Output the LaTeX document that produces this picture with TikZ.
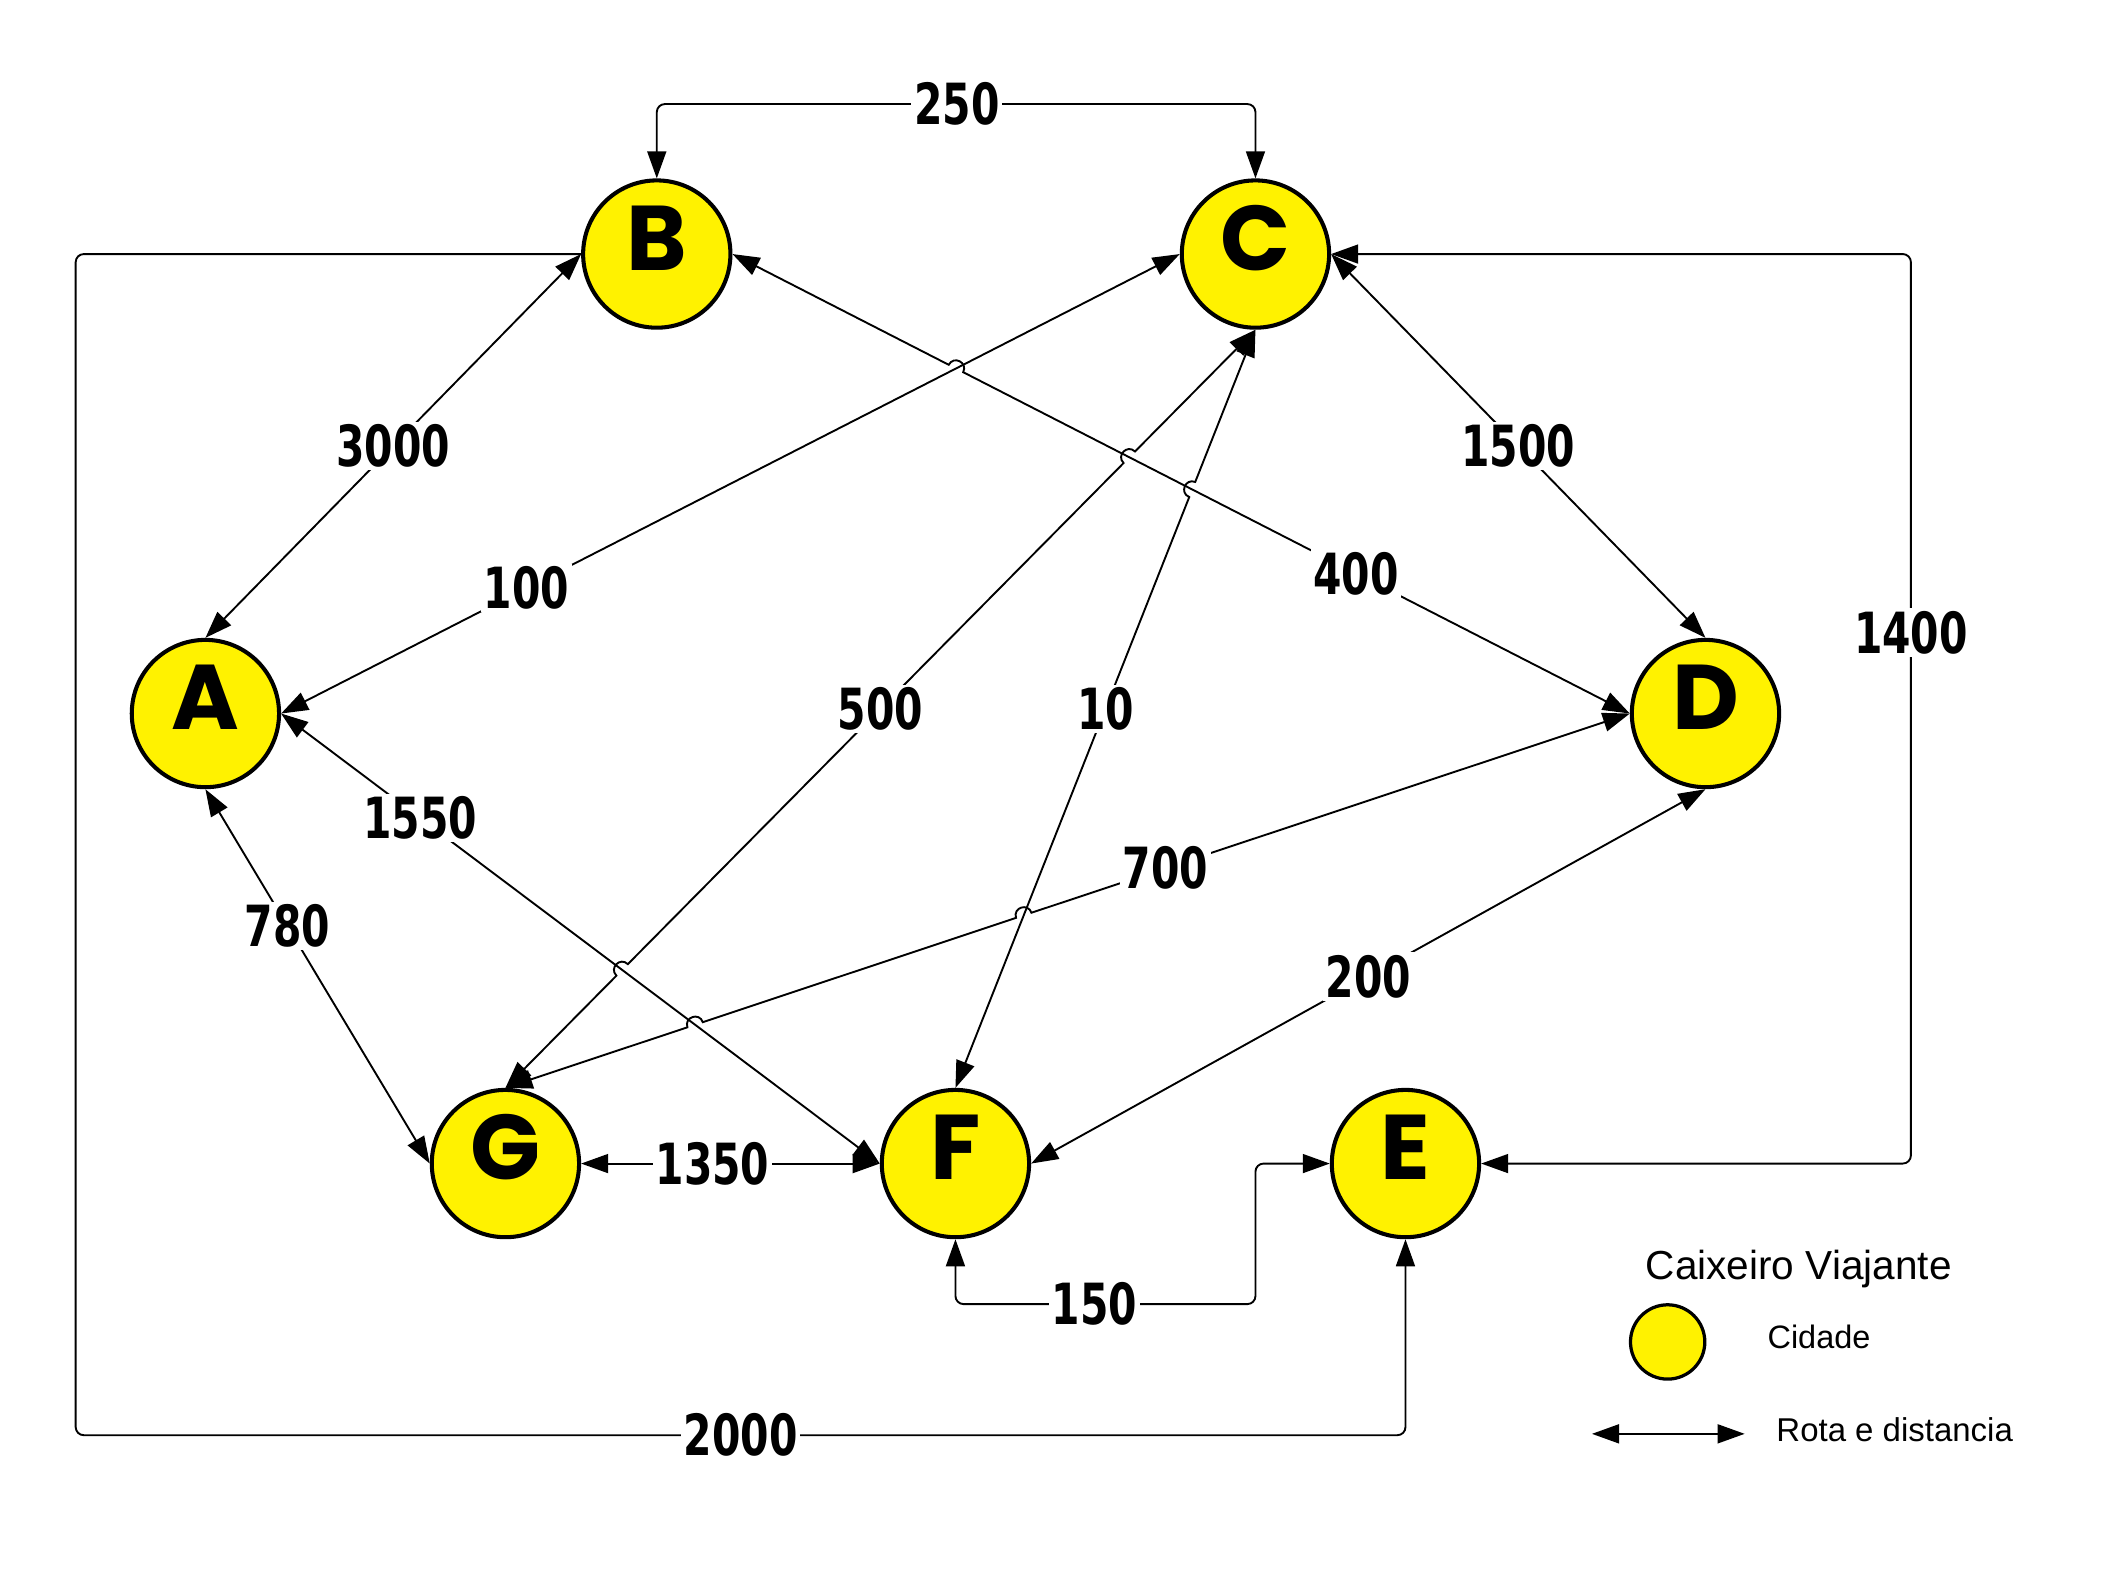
\documentclass[tikz,border=0pt]{standalone}
\usepackage{fontspec}
\setmainfont{Liberation Sans}
\newfontfamily\numfont{DejaVu Sans}[FakeStretch=0.72]
\newfontfamily\letfont{Poppins}
\usetikzlibrary{arrows.meta,calc,intersections}

% hop: #1 name, #2 crossing point, #3 point behind, #4 point ahead
\newcommand\mkhop[4]{%
  \coordinate (#1a) at ($(#2)!3pt!(#3)$);
  \coordinate (#1b) at ($(#2)!3pt!(#4)$);
  \coordinate (#1c) at ($(#1a)!0.667!90:(#1b)$);
  \coordinate (#1d) at ($(#1b)!0.667!-90:(#1a)$);}

\begin{document}
\begin{tikzpicture}[x=0.5pt,y=-0.5pt,
  >={Triangle[length=10pt,width=7pt]},
  city/.style={circle,draw=black,fill=yellow,line width=1.5pt,minimum size=54.5pt,inner sep=0pt,
    font=\letfont\bfseries\fontsize{34}{34}\selectfont,text height=12pt,text depth=0pt},
  lbl/.style={fill=white,inner sep=1pt,font=\numfont\bfseries\fontsize{21}{21}\selectfont},
  route/.style={line width=0.7pt,draw=black},
  legtxt/.style={anchor=base,inner sep=0pt},
]
\useasboundingbox (0,0) rectangle (1568,1160.3);

% cities
\node[city] (B) at (486,188) {B};
\node[city] (C) at (929,188) {C};
\node[city] (A) at (152,528) {A};
\node[city] (D) at (1262,528) {D};
\node[city] (G) at (374,861) {G};
\node[city] (F) at (707,861) {F};
\node[city] (E) at (1040,861) {E};

% routing coordinates
\coordinate (k250) at (708,77);
\coordinate (k1400) at (1414,468);
\coordinate (k2000) at (56,1062);
\coordinate (k150) at (929,965);

% base paths for crossings
\path[name path=pAC] (A.east) -- (C.west);
\path[name path=pBD] (B.east) -- (D.west);
\path[name path=pAF] (A.east) -- (F.west);
\path[name path=pCF] (C.south) -- (F.north);
\path[name path=pCG] (C.south) -- (G.north);
\path[name path=pGD] (G.north) -- (D.west);
\path[name intersections={of=pAC and pBD,by=xBD}];
\path[name intersections={of=pCG and pBD,by=xCGBD}];
\path[name intersections={of=pCF and pBD,by=xCFBD}];
\path[name intersections={of=pCG and pAF,by=xCGAF}];
\path[name intersections={of=pGD and pAF,by=xGDAF}];
\path[name intersections={of=pGD and pCF,by=xGDCF}];

\mkhop{hBD}{xBD}{B.east}{D.west}
\mkhop{hCGa}{xCGAF}{G.north}{C.south}
\mkhop{hCGb}{xCGBD}{G.north}{C.south}
\mkhop{hCF}{xCFBD}{F.north}{C.south}
\mkhop{hGDa}{xGDAF}{G.north}{D.west}
\mkhop{hGDb}{xGDCF}{G.north}{D.west}

% straight routes
\draw[route,<->] (A.north) -- (B.west);
\draw[route,<->] (A.east) -- (C.west);
\draw[route,<->] (A.east) -- (F.west);
\draw[route,<->] (A.south) -- (G.west);
\draw[route,<->] (C.east) -- (D.north);
\draw[route,<->] (F.east) -- (D.south);
\draw[route,<->] (G.east) -- (F.west);
\draw[route,<->] (B.east) -- (hBDa) .. controls (hBDc) and (hBDd) .. (hBDb) -- (D.west);
\draw[route,<->] (G.north) -- (hCGaa) .. controls (hCGac) and (hCGad) .. (hCGab)
   -- (hCGba) .. controls (hCGbc) and (hCGbd) .. (hCGbb) -- (C.south);
\draw[route,<->] (F.north) -- (hCFa) .. controls (hCFc) and (hCFd) .. (hCFb) -- (C.south);
\draw[route,<->] (G.north) -- (hGDaa) .. controls (hGDac) and (hGDad) .. (hGDab)
   -- (hGDba) .. controls (hGDbc) and (hGDbd) .. (hGDbb) -- (D.west);

% orthogonal routes
\draw[route,<->,rounded corners=3pt] (B.north) |- (k250) -| (C.north);
\draw[route,<->,rounded corners=3pt] (C.east) -| (k1400) |- (E.east);
\draw[route,->,rounded corners=3pt] (B.west) -| (k2000) -| (E.south);
\draw[route,<->,rounded corners=3pt] (F.south) |- (k150) |- (E.west);

% distance labels
\node[lbl] (l3000) at ($(A.north)!0.5!(B.west)$) {3000};
\node[lbl] (l100) at ($(A.east)!0.273!(C.west)$) {100};
\node[lbl] (l1550) at ($(A.east)!0.232!(F.west)$) {1550};
\node[lbl] (l780) at ($(A.south)!0.365!(G.west)$) {780};
\node[lbl] (l400) at ($(B.east)!0.695!(D.west)$) {400};
\node[lbl] (l1500) at ($(C.east)!0.5!(D.north)$) {1500};
\node[lbl] (l500) at ($(C.south)!0.5!(G.north)$) {500};
\node[lbl] (l10) at ($(C.south)!0.5!(F.north)$) {10};
\node[lbl] (l700) at ($(G.north)!0.587!(D.west)$) {700};
\node[lbl] (l200) at ($(F.east)!0.5!(D.south)$) {200};
\node[lbl] (l1350) at ($(G.east)!0.44!(F.west)$) {1350};
\node[lbl] (l250) at (k250) {250};
\node[lbl] (l1400) at (k1400) {1400};
\node[lbl] (l2000) at (548,1062) {2000};
\node[lbl] (l150) at (810,965) {150};

% legend
\node[legtxt,font=\fontsize{15}{15}\selectfont] (ltitle) at (1331,947) {Caixeiro Viajante};
\node[city,minimum size=27.5pt,line width=1.2pt] (lcity) at (1234,993) {};
\node[legtxt,font=\fontsize{12}{12}\selectfont] (lcid) at (1346,998) {Cidade};
\coordinate (la) at (1178,1061);
\coordinate (lb) at (1291,1061);
\draw[route,<->] (la) -- (lb);
\node[legtxt,font=\fontsize{12.2}{12.2}\selectfont] (lrota) at (1402,1067) {Rota e distancia};
\end{tikzpicture}
\end{document}
